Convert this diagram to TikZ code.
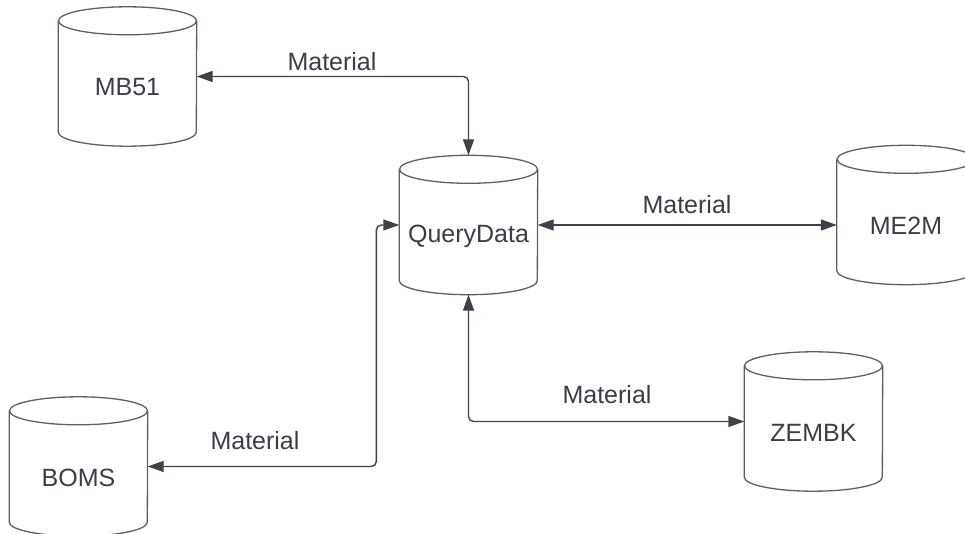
\documentclass[tikz,border=0pt]{standalone}
\usepackage{fontspec}
\setmainfont{Liberation Sans}
\usetikzlibrary{arrows.meta,calc}

\definecolor{inkline}{HTML}{3D4249}
\definecolor{dbedge}{HTML}{5C6068}
\definecolor{inktext}{HTML}{3A3F47}

% database cylinder: name, centre x, centre y, label
\newcommand{\dbcyl}[4]{%
  \node[dbbox] (#1) at (#2,#3) {};
  \draw[dbline] ([yshift=-14pt]#1.north) ellipse [x radius=69pt, y radius=14pt];
  \draw[dbline] ([yshift=-14pt]#1.north west) -- ([yshift=14pt]#1.south west)
     arc[start angle=180, end angle=360, x radius=69pt, y radius=14pt]
     -- ([yshift=-14pt]#1.north east);
  \node[dbtext] (#1-label) at ([yshift=-11pt]#1.center) {#4};
}

\begin{document}
\begin{tikzpicture}[x=1pt,y=-1pt,
  dbbox/.style={rectangle, draw=none, inner sep=0pt, minimum width=138pt, minimum height=139pt},
  dbline/.style={draw=dbedge, line width=1.3pt},
  dbtext/.style={text=inktext, font=\fontsize{25}{30}\selectfont, inner sep=0pt},
  flowlabel/.style={text=inktext, font=\fontsize{25}{30}\selectfont, inner sep=0pt},
  link/.style={draw=inkline, line width=1.4pt, rounded corners=5pt,
    {Triangle[length=16pt,width=11pt]}-{Triangle[length=16pt,width=11pt]}},
]
\fill[white] (0,0) rectangle (965,534);
\useasboundingbox (0,0) rectangle (965,534);

\dbcyl{mb}{127.5}{76.5}{MB51}
\dbcyl{qd}{468.5}{225}{QueryData}
\dbcyl{me}{906}{215}{ME2M}
\dbcyl{zb}{813.5}{421.5}{ZEMBK}
\dbcyl{bo}{78.5}{466.5}{BOMS}

% connectors
\draw[link] (mb.east) -| (qd.north);
\draw[link] (qd.east) -- (qd.east -| me.west);
\draw[link] (qd.south) |- (zb.west);
\coordinate (leftbend) at ([xshift=-23pt]qd.west);
\draw[link] (bo.east) -| (leftbend) -- (qd.west);

% connector labels
\node[flowlabel] (l1) at (332,62) {Material};
\node[flowlabel] (l2) at (687,205) {Material};
\node[flowlabel] (l3) at (607,395) {Material};
\node[flowlabel] (l4) at (255,441) {Material};
\end{tikzpicture}
\end{document}
